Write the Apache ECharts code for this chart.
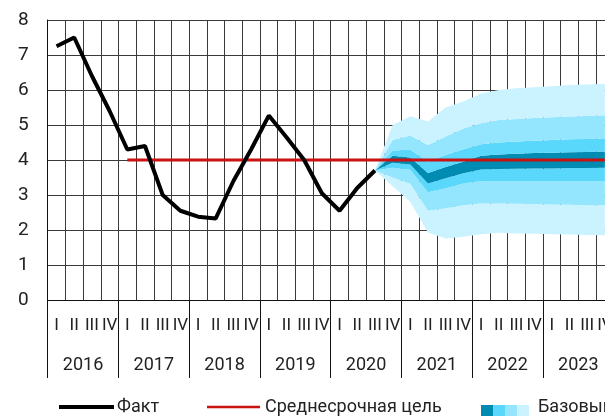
<!DOCTYPE html>
<html>
<head>
<meta charset="utf-8">
<script src="https://cdn.jsdelivr.net/npm/echarts@6/dist/echarts.min.js"></script>
<style>
  html, body { margin: 0; padding: 0; background: #fff; }
  #main { width: 605px; height: 416px; }
</style>
</head>
<body>
<div id="main"></div>
<script>
const chartDom = document.getElementById('main');
const myChart = echarts.init(chartDom);

const years = ['2016', '2017', '2018', '2019', '2020', '2021', '2022', '2023'];
const quarterNames = ['I', 'II', 'III', 'IV'];
const quarters = years.flatMap(() => quarterNames);

// инфляция, факт (2016 I - 2020 III)
const fact = [7.25, 7.5, 6.4, 5.4, 4.3, 4.4, 3.0, 2.55, 2.38, 2.33, 3.4, 4.3,
  5.27, 4.65, 4.0, 3.05, 2.55, 3.2, 3.7];

// цель 4% с 2017 I
const targetStart = 4;
const targetValue = 4;

// границы веера (2020 III - 2023 IV)
const fanStart = 18;
const outerTop = [3.7, 5.0, 5.25, 5.1, 5.5, 5.67, 5.9, 6.0, 6.05, 6.08, 6.11, 6.14, 6.16, 6.18];
const midTop   = [3.7, 4.57, 4.7, 4.43, 4.67, 4.9, 5.05, 5.14, 5.17, 5.2, 5.22, 5.24, 5.26, 5.28];
const innerTop = [3.7, 4.27, 4.29, 3.96, 4.14, 4.31, 4.45, 4.5, 4.53, 4.55, 4.57, 4.59, 4.6, 4.62];
const coreTop  = [3.7, 4.12, 4.07, 3.63, 3.8, 3.95, 4.12, 4.16, 4.18, 4.2, 4.21, 4.22, 4.23, 4.24];
const coreBot  = [3.7, 3.92, 3.87, 3.33, 3.48, 3.62, 3.73, 3.74, 3.75, 3.76, 3.76, 3.77, 3.77, 3.78];
const innerBot = [3.7, 3.78, 3.72, 3.08, 3.19, 3.33, 3.4, 3.4, 3.4, 3.4, 3.4, 3.4, 3.4, 3.4];
const midBot   = [3.7, 3.5, 3.32, 2.55, 2.62, 2.71, 2.76, 2.76, 2.75, 2.74, 2.73, 2.72, 2.71, 2.71];
const outerBot = [3.7, 3.25, 2.8, 1.93, 1.76, 1.81, 1.88, 1.92, 1.9, 1.89, 1.88, 1.87, 1.86, 1.85];

const fanColors = ['#cbf3ff', '#93e6fd', '#5ad8fc', '#008cb2'];
const fontFamily = "Roboto, sans-serif";

pad = (arr) => quarters.map((q, i) => (i >= fanStart && i - fanStart < arr.length) ? arr[i - fanStart] : '-');
diff = (hi, lo) => hi.map((v, i) => +(v - lo[i]).toFixed(3));

const edges = [outerBot, midBot, innerBot, coreBot, coreTop, innerTop, midTop, outerTop];
const bandColors = [fanColors[0], fanColors[1], fanColors[2], fanColors[3], fanColors[2], fanColors[1], fanColors[0]];

const fanSeries = [{
  type: 'line',
  stack: 'fan',
  data: pad(outerBot),
  symbol: 'none',
  lineStyle: { width: 0 },
  silent: true,
  z: 1
}];
bandColors.forEach((color, k) => {
  fanSeries.push({
    type: 'line',
    stack: 'fan',
    data: pad(diff(edges[k + 1], edges[k])),
    symbol: 'none',
    lineStyle: { width: 0 },
    areaStyle: { color, opacity: 1 },
    silent: true,
    z: 1
  });
});

const targetData = quarters.map((q, i) => i >= targetStart ? targetValue : '-');
const factData = quarters.map((q, i) => i < fact.length ? fact[i] : '-');

myChart.setOption({
  animation: false,
  textStyle: { fontFamily },
  grid: { left: 47.7, top: 20, width: 566, height: 280, outerBoundsMode: 'none', containLabel: false },
  xAxis: [
    {
      type: 'category',
      data: quarters,
      position: 'bottom',
      axisLine: { lineStyle: { color: '#111', width: 1 } },
      axisTick: { show: false },
      axisLabel: { interval: 0, color: '#222', fontSize: 17, margin: 17, fontFamily },
      splitLine: { show: true, interval: 0, lineStyle: { color: '#3a3a3a', width: 1 } }
    },
    {
      type: 'category',
      data: years,
      position: 'bottom',
      axisLine: { show: false },
      axisTick: { show: true, interval: 0, length: 78, lineStyle: { color: '#111', width: 1 } },
      axisLabel: { interval: 0, color: '#222', fontSize: 18, margin: 56, fontFamily },
      splitLine: { show: false }
    }
  ],
  yAxis: {
    type: 'value',
    min: 0,
    max: 8,
    interval: 1,
    axisLine: { show: true, lineStyle: { color: '#111', width: 1 } },
    axisTick: { show: false },
    axisLabel: { color: '#222', fontSize: 19, margin: 19, fontFamily },
    splitLine: { lineStyle: { color: '#3a3a3a', width: 1 } }
  },
  series: [
    ...fanSeries,
    {
      name: 'Среднесрочная цель',
      type: 'line',
      data: targetData,
      symbol: 'none',
      lineStyle: { color: '#cc1111', width: 3 },
      z: 3
    },
    {
      name: 'Факт',
      type: 'line',
      data: factData,
      symbol: 'none',
      lineStyle: { color: '#000', width: 4 },
      z: 4
    }
  ],
  graphic: [
    { type: 'line', shape: { x1: 59, y1: 407, x2: 114, y2: 407 }, style: { stroke: '#000', lineWidth: 4 } },
    { type: 'text', left: 117, top: 398, style: { text: 'Факт', fontSize: 18, fill: '#222', fontFamily } },
    { type: 'line', shape: { x1: 207, y1: 407, x2: 260, y2: 407 }, style: { stroke: '#cc1111', lineWidth: 2.5 } },
    { type: 'text', left: 265, top: 398, style: { text: 'Среднесрочная цель', fontSize: 18, fill: '#222', fontFamily } },
    { type: 'rect', shape: { x: 481, y: 405, width: 12, height: 11 }, style: { fill: fanColors[3] } },
    { type: 'rect', shape: { x: 493, y: 405, width: 12, height: 11 }, style: { fill: fanColors[2] } },
    { type: 'rect', shape: { x: 505, y: 405, width: 12, height: 11 }, style: { fill: fanColors[1] } },
    { type: 'rect', shape: { x: 517, y: 405, width: 12, height: 11 }, style: { fill: fanColors[0] } },
    { type: 'text', left: 538, top: 398, style: { text: 'Базовый', fontSize: 18, fill: '#222', fontFamily } }
  ]
});

window.addEventListener('resize', () => {
  myChart.resize();
});
</script>
</body>
</html>
